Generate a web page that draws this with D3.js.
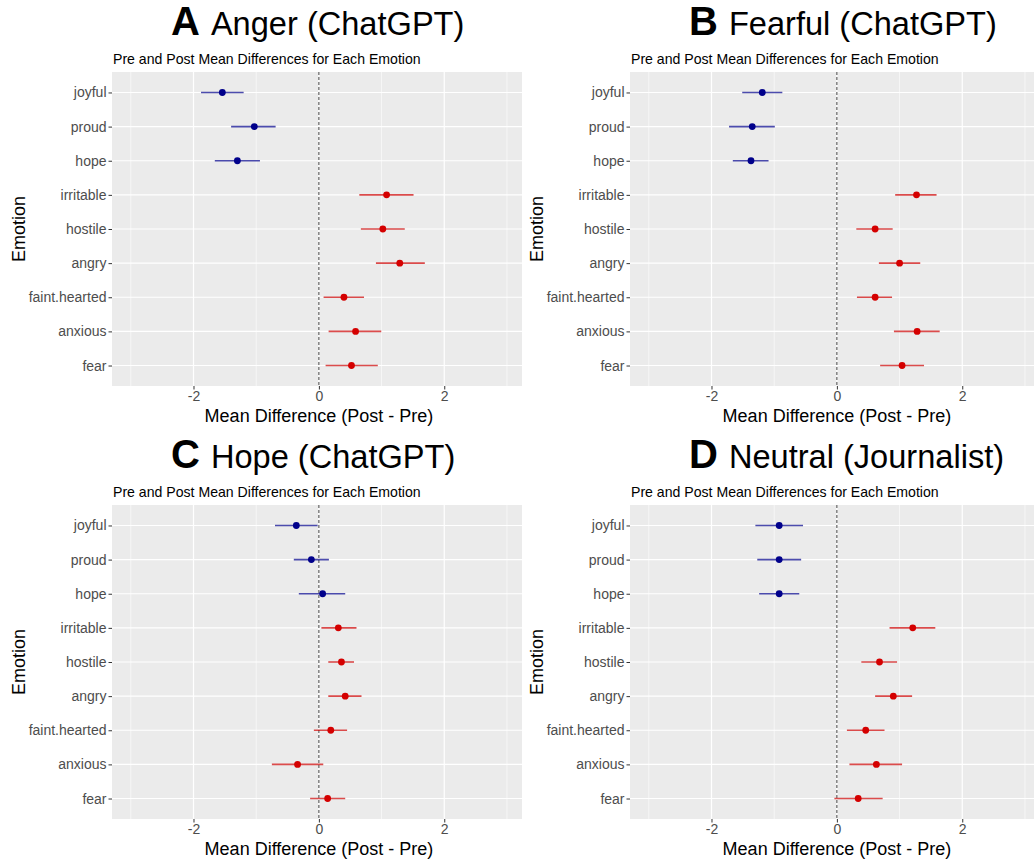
<!DOCTYPE html>
<html>
<head>
<meta charset="utf-8">
<script src="https://cdn.jsdelivr.net/npm/d3@7"></script>
<style>
  html, body { margin: 0; padding: 0; background: #fff; }
  svg { display: block; font-family: "Liberation Sans", Arial, sans-serif; }
</style>
</head>
<body>
<svg id="chart" width="1034" height="861"></svg>
<script>
// ---- data ----
const emotions = ["joyful", "proud", "hope", "irritable", "hostile", "angry", "faint.hearted", "anxious", "fear"];
const positiveEmotions = ["joyful", "proud", "hope"];
const xTicks = [-2, 0, 2];
const minorTicks = [-3, -1, 1, 3];

const panelLetters = ["A", "B", "C", "D"];
const panelTitles = ["Anger (ChatGPT)", "Fearful (ChatGPT)", "Hope (ChatGPT)", "Neutral (Journalist)"];
const subtitle = "Pre and Post Mean Differences for Each Emotion";
const xLabel = "Mean Difference (Post - Pre)";
const yLabel = "Emotion";

const angerMean = [-1.54, -1.03, -1.30, 1.08, 1.02, 1.29, 0.40, 0.585, 0.52];
const angerLow  = [-1.88, -1.40, -1.66, 0.645, 0.67, 0.91, 0.075, 0.155, 0.107];
const angerHigh = [-1.20, -0.69, -0.94, 1.51, 1.37, 1.69, 0.72, 0.995, 0.94];

const fearfulMean = [-1.19, -1.35, -1.37, 1.27, 0.61, 1.00, 0.61, 1.28, 1.04];
const fearfulLow  = [-1.51, -1.72, -1.66, 0.93, 0.31, 0.67, 0.32, 0.91, 0.69];
const fearfulHigh = [-0.87, -0.99, -1.09, 1.59, 0.89, 1.33, 0.88, 1.64, 1.39];

const hopeMean = [-0.36, -0.12, 0.06, 0.31, 0.36, 0.42, 0.19, -0.34, 0.14];
const hopeLow  = [-0.70, -0.40, -0.32, 0.04, 0.15, 0.15, -0.08, -0.75, -0.14];
const hopeHigh = [-0.02, 0.16, 0.42, 0.60, 0.56, 0.68, 0.45, 0.07, 0.42];

const neutralMean = [-0.92, -0.92, -0.92, 1.21, 0.68, 0.90, 0.46, 0.63, 0.34];
const neutralLow  = [-1.30, -1.27, -1.24, 0.84, 0.39, 0.61, 0.16, 0.20, -0.04];
const neutralHigh = [-0.54, -0.57, -0.60, 1.57, 0.96, 1.20, 0.76, 1.04, 0.73];

const xDomain = [-3.3, 3.24];

// ---- build ----
const panelsData = [
  [angerMean, angerLow, angerHigh],
  [fearfulMean, fearfulLow, fearfulHigh],
  [hopeMean, hopeLow, hopeHigh],
  [neutralMean, neutralLow, neutralHigh]
];
const lefts = [112, 630];
const tops = [72, 505];
const W = 410, H = 314;

const svg = d3.select("#chart");

panelsData.forEach((pd, i) => {
  const left = lefts[i % 2];
  const top = tops[Math.floor(i / 2)];
  const rows = emotions.map((e, j) => ({ emotion: e, mean: pd[0][j], lo: pd[1][j], hi: pd[2][j] }));

  const x = d3.scaleLinear().domain(xDomain).range([left, left + W]);
  const y = d3.scalePoint().domain(emotions).range([top, top + H]).padding(0.6);

  const g = svg.append("g");

  g.append("rect").attr("x", left).attr("y", top).attr("width", W).attr("height", H).attr("fill", "#EBEBEB");

  g.selectAll(".minor").data(minorTicks).join("line")
    .attr("x1", d => x(d)).attr("x2", d => x(d)).attr("y1", top).attr("y2", top + H)
    .attr("stroke", "#fff").attr("stroke-width", 0.6);
  g.selectAll(".majx").data(xTicks).join("line")
    .attr("x1", d => x(d)).attr("x2", d => x(d)).attr("y1", top).attr("y2", top + H)
    .attr("stroke", "#fff").attr("stroke-width", 1.2);
  g.selectAll(".majy").data(emotions).join("line")
    .attr("x1", left).attr("x2", left + W).attr("y1", d => y(d)).attr("y2", d => y(d))
    .attr("stroke", "#fff").attr("stroke-width", 1.2);

  g.append("line").attr("x1", x(0)).attr("x2", x(0)).attr("y1", top).attr("y2", top + H)
    .attr("stroke", "#444").attr("stroke-width", 1).attr("stroke-dasharray", "3,2");

  g.selectAll(".err").data(rows).join("line")
    .attr("x1", d => x(d.lo)).attr("x2", d => x(d.hi))
    .attr("y1", d => y(d.emotion)).attr("y2", d => y(d.emotion))
    .attr("stroke", d => positiveEmotions.includes(d.emotion) ? "#00008B" : "#CD0000")
    .attr("stroke-opacity", 0.7).attr("stroke-width", 1.6);

  g.selectAll(".pt").data(rows).join("circle")
    .attr("cx", d => x(d.mean)).attr("cy", d => y(d.emotion)).attr("r", 3.4)
    .attr("fill", d => positiveEmotions.includes(d.emotion) ? "#00008B" : "#D40000");

  const xAxis = d3.axisBottom(x).tickValues(xTicks).tickSize(3.5).tickPadding(2).tickFormat(d3.format("d"));
  const gx = g.append("g").attr("transform", `translate(0,${top + H})`).call(xAxis);
  gx.select(".domain").remove();
  gx.selectAll(".tick line").attr("stroke", "#333").attr("stroke-width", 1);
  gx.selectAll(".tick text").attr("fill", "#4D4D4D").attr("font-size", 14)
    .attr("font-family", "Liberation Sans, Arial, sans-serif").attr("dy", "0.71em");
  gx.selectAll(".tick text").text(d => d < 0 ? "-" + Math.abs(d) : d);

  const yAxis = d3.axisLeft(y).tickSize(3.5).tickPadding(2);
  const gy = g.append("g").attr("transform", `translate(${left},0)`).call(yAxis);
  gy.select(".domain").remove();
  gy.selectAll(".tick line").attr("stroke", "#333").attr("stroke-width", 1);
  gy.selectAll(".tick text").attr("fill", "#4D4D4D").attr("font-size", 14)
    .attr("font-family", "Liberation Sans, Arial, sans-serif");

  g.append("text").attr("x", left + W / 2 + 2).attr("y", top + H + 36)
    .attr("text-anchor", "middle").attr("font-size", 18).attr("fill", "#000").text(xLabel);
  g.append("text").attr("transform", `translate(${left - 87},${top + H / 2}) rotate(-90)`)
    .attr("text-anchor", "middle").attr("font-size", 18).attr("fill", "#000").text(yLabel);

  g.append("text").attr("x", left + 1).attr("y", top - 8)
    .attr("font-size", 14.1).attr("fill", "#000").text(subtitle);

  const t = g.append("text").attr("x", left + 59).attr("y", top - 37).attr("fill", "#000");
  t.append("tspan").attr("font-size", 40).attr("font-weight", "bold").text(panelLetters[i]);
  t.append("tspan").attr("font-size", 32.6).attr("dx", 11).text(panelTitles[i]);
});
</script>
</body>
</html>
